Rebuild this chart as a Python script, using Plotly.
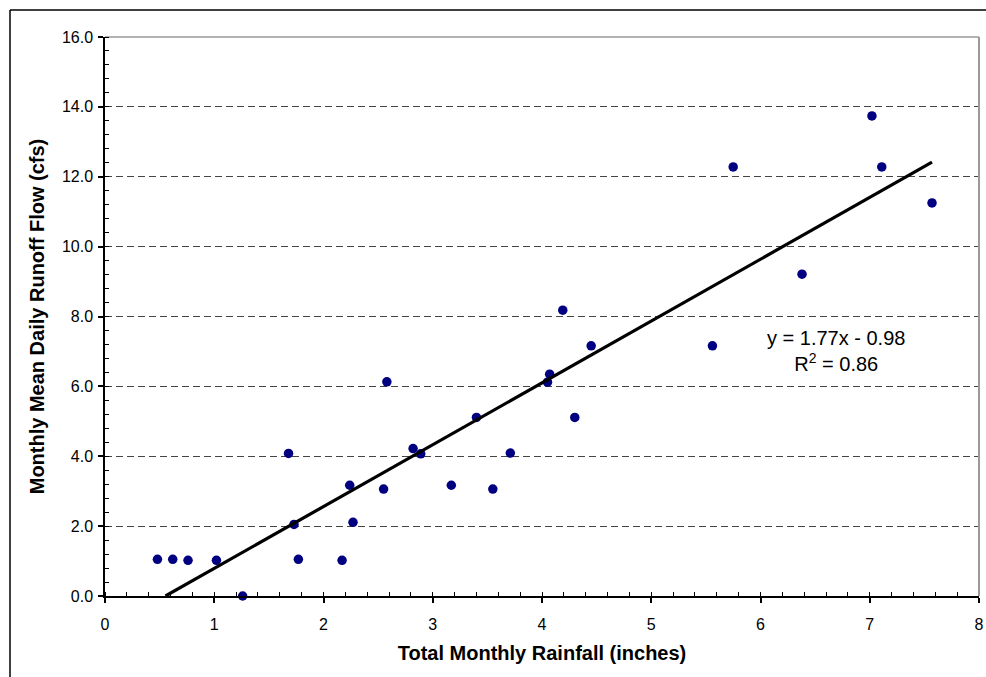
import plotly.graph_objects as go

# Data
rainfall_in = [0.48, 0.62, 0.76, 1.02, 1.26, 1.68, 1.73, 1.77, 2.17, 2.24,
               2.27, 2.55, 2.58, 2.82, 2.89, 3.17, 3.40, 3.55, 3.71, 4.05,
               4.07, 4.19, 4.30, 4.45, 5.56, 5.75, 6.38, 7.02, 7.11, 7.57]
runoff_cfs = [1.05, 1.05, 1.02, 1.02, 0.00, 4.08, 2.05, 1.05, 1.02, 3.17,
              2.11, 3.06, 6.13, 4.22, 4.07, 3.17, 5.11, 3.06, 4.09, 6.12,
              6.35, 8.18, 5.11, 7.16, 7.16, 12.28, 9.21, 13.74, 12.28, 11.25]

TREND_SLOPE = 1.77
TREND_INTERCEPT = -0.98
TREND_R2 = 0.86

x_ticks = [0, 1, 2, 3, 4, 5, 6, 7, 8]
y_ticks = [0, 2, 4, 6, 8, 10, 12, 14, 16]

FONT = "Arial, Liberation Sans, sans-serif"

# trendline endpoints: from where it crosses y=0 (axis min) to the max x
t_x0 = -TREND_INTERCEPT / TREND_SLOPE
t_x1 = max(rainfall_in)
trend_x = [t_x0, t_x1]
trend_y = [TREND_SLOPE * v + TREND_INTERCEPT for v in trend_x]

fig = go.Figure()
fig.add_trace(go.Scatter(
    x=rainfall_in, y=runoff_cfs, mode="markers",
    marker=dict(color="#000080", size=9.5, line=dict(width=0)),
    showlegend=False, cliponaxis=False,
))
fig.add_trace(go.Scatter(
    x=trend_x, y=trend_y, mode="lines",
    line=dict(color="black", width=3.2),
    showlegend=False,
))

# plot area (in page pixels): x 105..979, y 37..596
PW, PH = 874, 559

fig.update_layout(
    width=986, height=677,
    margin=dict(l=105, r=7, t=37, b=81),
    paper_bgcolor="white", plot_bgcolor="white",
    font=dict(family=FONT, color="black", size=16),
    xaxis=dict(
        range=[0, 8], tickvals=x_ticks, ticktext=[str(v) for v in x_ticks],
        automargin=False,
        showgrid=False, zeroline=False,
        showline=True, linecolor="black", linewidth=1.5,
        ticks="outside", ticklen=5, tickcolor="black", tickwidth=1.5,
        ticklabelstandoff=8,
        minor=dict(dtick=0.2, ticks="inside", ticklen=4, tickcolor="black", tickwidth=1),
        tickfont=dict(size=16, family=FONT),
        title=dict(text="<b>Total Monthly Rainfall (inches)</b>",
                   font=dict(size=20, family=FONT), standoff=14),
    ),
    yaxis=dict(
        range=[0, 16], tickvals=y_ticks, tickformat=".1f",
        automargin=False,
        showgrid=True, gridcolor="#444444", gridwidth=1, griddash="7px,4px",
        zeroline=False,
        showline=True, linecolor="black", linewidth=1.5,
        ticks="outside", ticklen=5, tickcolor="black", tickwidth=1.5,
        ticklabelstandoff=2,
        minor=dict(dtick=0.4, ticks="inside", ticklen=4, tickcolor="black", tickwidth=1),
        tickfont=dict(size=16, family=FONT),
        title=dict(text="<b>Monthly Mean Daily Runoff Flow (cfs)</b>",
                   font=dict(size=20, family=FONT), standoff=12),
    ),
    shapes=[
        # grey plot-area border top and right
        dict(type="line", xref="paper", yref="paper", x0=0, x1=1, y0=1, y1=1,
             line=dict(color="#999999", width=1.5), layer="below"),
        dict(type="line", xref="paper", yref="paper", x0=1, x1=1, y0=0, y1=1,
             line=dict(color="#999999", width=2)),
        # outer chart border (left and top visible)
        dict(type="line", xref="paper", yref="paper",
             x0=(10 - 105) / PW, x1=(10 - 105) / PW,
             y0=(596 - 10) / PH, y1=(596 - 700) / PH,
             line=dict(color="black", width=1.5)),
        dict(type="line", xref="paper", yref="paper",
             x0=(10 - 105) / PW, x1=(1000 - 105) / PW,
             y0=(596 - 10) / PH, y1=(596 - 10) / PH,
             line=dict(color="black", width=1.5)),
    ],
    annotations=[
        dict(text=f"y = {TREND_SLOPE:.2f}x - {abs(TREND_INTERCEPT):.2f}<br>R<sup>2</sup> = {TREND_R2:.2f}",
             x=6.69, y=7.02, xref="x", yref="y", showarrow=False,
             align="center", font=dict(size=20, family=FONT, color="black")),
    ],
)

fig.write_html(
    "out.html",
    config={"displayModeBar": False},
    post_script="document.body.style.margin='0';document.body.style.overflow='hidden';",
)
